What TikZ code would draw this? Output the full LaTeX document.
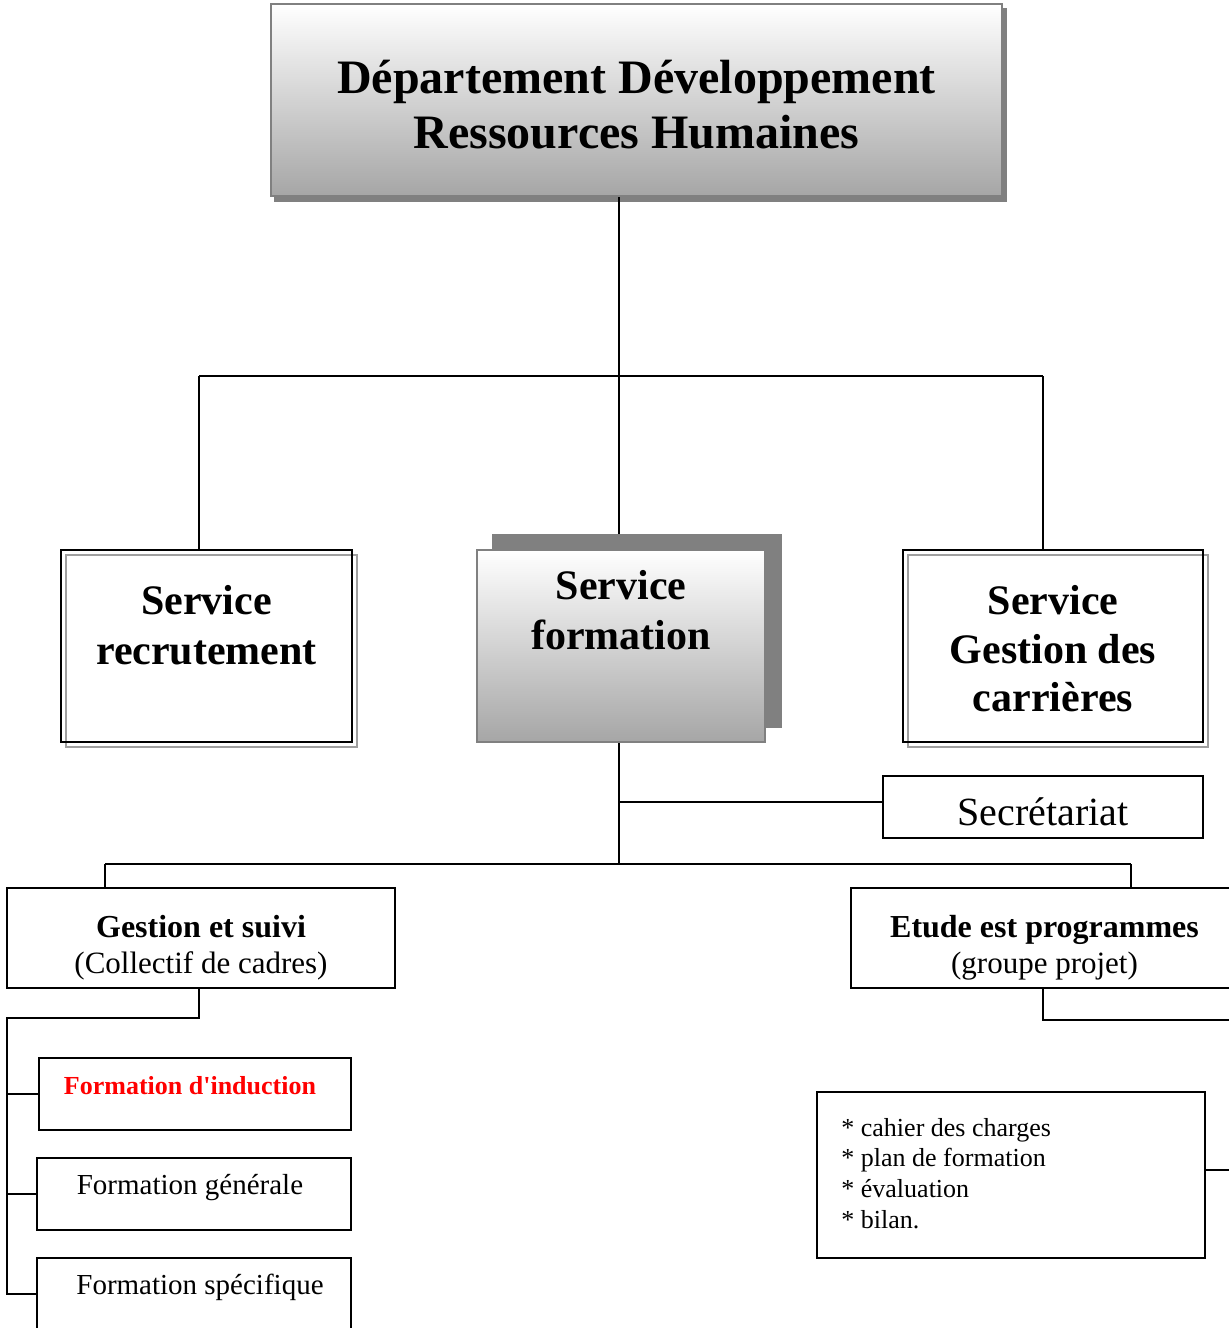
\documentclass[tikz,border=0pt]{standalone}
\usepackage{fontspec}
\setmainfont{Liberation Serif}
\usetikzlibrary{positioning}
\def\cadredouble#1#2#3#4#5{
  % 1: nom
  % 2: x
  % 3: y
  % 4: largeur
  % 5: hauteur
  \node[boite, draw=gray!75, minimum width=#4, minimum height=#5] (#1-ombre) at ([shift={(2.5,2.5)}]#2,#3) {};
  \node[boite, minimum width=#4, minimum height=#5] (#1) at (#2,#3) {};
}
\begin{document}
\begin{tikzpicture}[x=1pt, y=-1pt,
  boite/.style={draw, line width=1pt, inner sep=0pt},
  lien/.style={line width=1pt},
  degrade/.style={boite, draw=gray, top color=white, bottom color=gray!70},
  titre/.style={inner sep=0pt, align=center, font=\fontsize{21}{25}\selectfont\bfseries},
  forma/.style={boite, minimum width=157pt, minimum height=36pt, text height=5pt, text depth=5pt, font=\fontsize{14.5}{17}\selectfont}]
    \clip (0,0) rectangle (614.5,664);

    % departement
    \node[boite, draw=gray, fill=gray, minimum width=365.5pt, minimum height=96pt] (dep-ombre) at (320.25,52.5) {};
    \node[degrade, minimum width=365.5pt, minimum height=96pt] (dep) at (318.25,50) {};
    \node[titre, below=28.5pt of dep.north, font=\fontsize{24}{27.5}\selectfont\bfseries] (depT) {D\'epartement D\'eveloppement\\Ressources Humaines};

    % services
    \cadredouble{recr}{103.25}{323}{145.5pt}{96pt}
    \node[titre, below=18pt of recr.north] (recrT) {Service\\recrutement};
    \node[boite, draw=gray, fill=gray, minimum width=144pt, minimum height=96pt] (form-ombre) at (318.5,315.5) {};
    \node[degrade, minimum width=144pt, minimum height=96pt] (form) at (310.5,323) {};
    \node[titre, below=10.5pt of form.north] (formT) {Service\\formation};
    \cadredouble{carr}{526.5}{323}{150pt}{96pt}
    \node[titre, below=18pt of carr.north, font=\fontsize{21}{24.25}\selectfont\bfseries] (carrT) {Service\\Gestion des\\carri\`eres};
    \node[boite, minimum width=160pt, minimum height=31pt, text height=18pt, text depth=0pt, font=\fontsize{20}{24}\selectfont] (secr) at (521.5,403.5) {Secr\'etariat};

    % cellules
    \node[boite, minimum width=194pt, minimum height=50pt] (gest) at (100.5,469) {};
    \node[titre, below=14pt of gest.north, font=\fontsize{16}{18}\selectfont] (gestT) {\bfseries Gestion et suivi\\{\fontsize{15.5}{18}\selectfont (Collectif de cadres)}};
    \node[boite, minimum width=193.5pt, minimum height=50pt] (etude) at (522.25,469) {};
    \node[titre, below=13.7pt of etude.north, font=\fontsize{16}{18}\selectfont] (etudeT) {\bfseries Etude est programmes\\{\fontsize{15.5}{18}\selectfont (groupe projet)}};
    \node[boite, minimum width=194pt, minimum height=83pt] (list) at (505.5,587.5) {};
    \node[inner sep=0pt, align=left, font=\fontsize{13}{15.3}\selectfont, below right=13.4pt and 12.5pt of list.north west] (listT) {* cahier des charges\\* plan de formation\\* \'evaluation\\* bilan.};

    \node[forma, minimum width=156pt, text=red, font=\fontsize{13}{15}\selectfont\bfseries] (find) at (97.5,547) {\hspace{-5pt}Formation d\textquotesingle induction};
    \node[forma] (fgen) at (97,597) {\hspace{-4pt}Formation g\'en\'erale};
    \node[forma] (fspe) at (97,647) {\hspace{6pt}Formation sp\'ecifique};

    % liaisons
    \coordinate (busL) at (99.5,188);
    \coordinate (busM) at (309.5,188);
    \coordinate (busR) at (521.5,188);
    \coordinate (busS) at (309.5,401);
    \coordinate (busBL) at (52.5,432);
    \coordinate (busBR) at (565.5,432);
    \coordinate (arbre) at (3.5,509);
    \coordinate (etR) at (614.5,510);
    \coordinate (lstR) at (614.5,585);
    \draw[lien] (dep.south -| busM) -- (form-ombre.north -| busM);
    \draw[lien] (busL) -- (busR);
    \draw[lien] (busL) -- (busL |- recr.north);
    \draw[lien] (busR) -- (busR |- carr.north);
    \draw[lien] (form.south -| busM) -- (busBL -| busM);
    \draw[lien] (busS) -- (busS -| secr.west);
    \draw[lien] (busBL) -- (busBR);
    \draw[lien] (busBL) -- (busBL |- gest.north);
    \draw[lien] (busBR) -- (busBR |- etude.north);
    \draw[lien] (gest.south -| busL) -- (busL |- arbre) -- (arbre) -- (arbre |- fspe.west) -- (fspe.west);
    \draw[lien] (arbre |- find.west) -- (find.west);
    \draw[lien] (arbre |- fgen.west) -- (fgen.west);
    \draw[lien] (etude.south -| busR) -- (busR |- etR) -- (etR);
    \draw[lien] (lstR -| list.east) -- (lstR);
\end{tikzpicture}
\end{document}
